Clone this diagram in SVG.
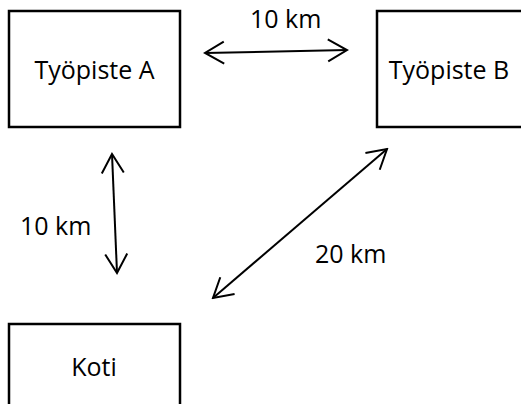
<svg xmlns="http://www.w3.org/2000/svg" width="521" height="404" viewBox="0 0 521 404">
<style>
.box{fill:#fff;stroke:#000;stroke-width:2.5}
.lbl{font-family:"Open Sans","Liberation Sans",sans-serif;font-size:25px;fill:#000}
.mid{text-anchor:middle}
.conn{stroke:#000;stroke-width:2;fill:none;marker-start:url(#ah);marker-end:url(#ah)}
</style>
<defs>
<marker id="ah" markerUnits="userSpaceOnUse" viewBox="-22 -14 24 28" refX="0" refY="0" markerWidth="24" markerHeight="28" orient="auto-start-reverse">
<path d="M-19,-11 L0,0 L-19,11" fill="none" stroke="#000" stroke-width="2"/>
</marker>
</defs>
<rect width="521" height="404" fill="#fff"/>
<g id="tyopiste-a">
<rect class="box" x="9" y="11" width="171" height="116"/>
<text class="lbl mid" x="94.5" y="79">Työpiste A</text>
</g>
<g id="tyopiste-b">
<rect class="box" x="377" y="11" width="171" height="116"/>
<text class="lbl mid" x="449" y="79">Työpiste B</text>
</g>
<g id="koti">
<rect class="box" x="9" y="324" width="171" height="116"/>
<text class="lbl mid" x="94" y="376">Koti</text>
</g>
<g id="connectors">
<line class="conn" x1="205" y1="53" x2="347" y2="50"/>
<line class="conn" x1="112" y1="154" x2="117" y2="273"/>
<line class="conn" x1="387" y1="149" x2="213" y2="298"/>
<text class="lbl" x="250" y="28">10 km</text>
<text class="lbl" x="20" y="235">10 km</text>
<text class="lbl" x="315" y="263">20 km</text>
</g>
</svg>
